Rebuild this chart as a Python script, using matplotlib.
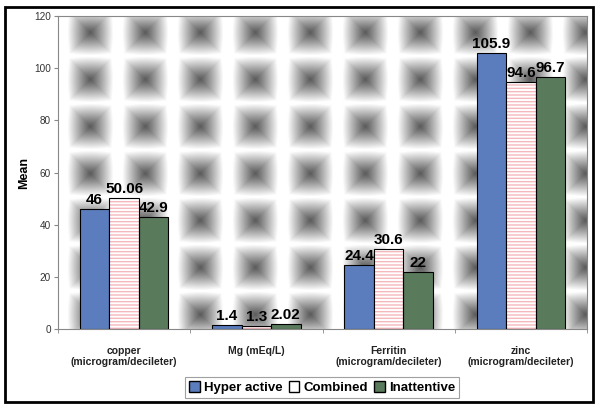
import numpy as np
import matplotlib
matplotlib.use('Agg')
import matplotlib.pyplot as plt
from matplotlib.patches import Rectangle, Patch

plt.rcParams['font.family'] = ['Liberation Sans', 'DejaVu Sans']
plt.rcParams['hatch.linewidth'] = 1.0

# Data
categories = ['copper\n(microgram/decileter)', 'Mg (mEq/L)',
              'Ferritin\n(microgram/decileter)', 'zinc\n(microgram/decileter)']
hyper = [46, 1.4, 24.4, 105.9]
combined = [50.06, 1.3, 30.6, 94.6]
inattentive = [42.9, 2.02, 22, 96.7]
hyper_lbl = ['46', '1.4', '24.4', '105.9']
combined_lbl = ['50.06', '1.3', '30.6', '94.6']
inatt_lbl = ['42.9', '2.02', '22', '96.7']

fig = plt.figure(figsize=(6, 4.09), dpi=100)
ax = fig.add_axes([0.0967, 0.1956, 0.8816, 0.765])

# tiled background texture (pixel based)
w, h = 529, 313
px = np.arange(w)
py = np.arange(h)
dx = np.abs(((px - 32 + 27.5) % 55) - 27.5)
dy = np.abs(((py - 16 + 23.5) % 47) - 23.5)
d = np.maximum(dx[None, :], dy[:, None])
r = np.sqrt(dx[None, :] ** 2 + dy[:, None] ** 2)
dd = 0.8 * d + 0.2 * r
t = np.clip(dd / 23.0, 0, 1) ** 1.1
tex = 0.36 + 0.64 * t
ax.imshow(tex, cmap='gray', vmin=0, vmax=1, extent=[-0.5, 3.5, 0, 120],
          aspect='auto', zorder=0, interpolation='bilinear')

x = np.arange(len(categories))
bw = 0.223
blue = '#5b7cbd'
green = '#5a7a5c'

ax.bar(x - bw, hyper, bw, color=blue, edgecolor='black', linewidth=0.8, zorder=2)
ax.bar(x, combined, bw, color='white', edgecolor='#f4b8bd', hatch='-----', linewidth=0, zorder=2)
ax.bar(x, combined, bw, fill=False, edgecolor='black', linewidth=0.8, zorder=3)
ax.bar(x + bw, inattentive, bw, color=green, edgecolor='black', linewidth=0.8, zorder=2)

for vals, lbls, off in [(hyper, hyper_lbl, -bw), (combined, combined_lbl, 0), (inattentive, inatt_lbl, bw)]:
    for xi, v, t_ in zip(x, vals, lbls):
        ax.annotate(t_, (xi + off, v), xytext=(0, 1.5), textcoords='offset points',
                    ha='center', va='bottom', fontsize=11, fontweight='bold', zorder=4)

ax.set_xlim(-0.5, 3.5)
ax.set_ylim(0, 120)
ax.set_yticks(np.arange(0, 121, 20))
ax.tick_params(axis='y', labelsize=7.2, length=3, color='#888888', labelcolor='#333333', pad=2)
ax.set_xticks(x)
ax.set_xticklabels(categories, fontsize=7.5, fontweight='bold', color='#222222')
ax.set_xticks(np.arange(-0.5, 3.6, 1), minor=True)
ax.tick_params(axis='x', which='major', length=0, pad=12)
ax.tick_params(axis='x', which='minor', length=3, color='#888888')
for s in ax.spines.values():
    s.set_color('#888888')
    s.set_linewidth(0.8)
ax.set_ylabel('Mean', fontsize=9, fontweight='bold', labelpad=3)

handles = [Patch(facecolor=blue, edgecolor='black', label='Hyper active'),
           Patch(facecolor='white', edgecolor='black', label='Combined'),
           Patch(facecolor=green, edgecolor='black', label='Inattentive')]
leg = fig.legend(handles=handles, loc='center', bbox_to_anchor=(0.537, 0.052), ncol=3,
                 prop={'weight': 'bold', 'size': 9.5}, frameon=True, fancybox=False,
                 handlelength=0.8, handleheight=0.8, handletextpad=0.3,
                 columnspacing=0.5, borderpad=0.3, borderaxespad=0)
leg.get_frame().set_edgecolor('#888888')
leg.get_frame().set_linewidth(0.8)

fig.patches.append(Rectangle((5 / 600, 7 / 409), 588 / 600, 395 / 409, fill=False,
                             edgecolor='black', linewidth=2, transform=fig.transFigure))

fig.savefig('out.png', dpi=100)
